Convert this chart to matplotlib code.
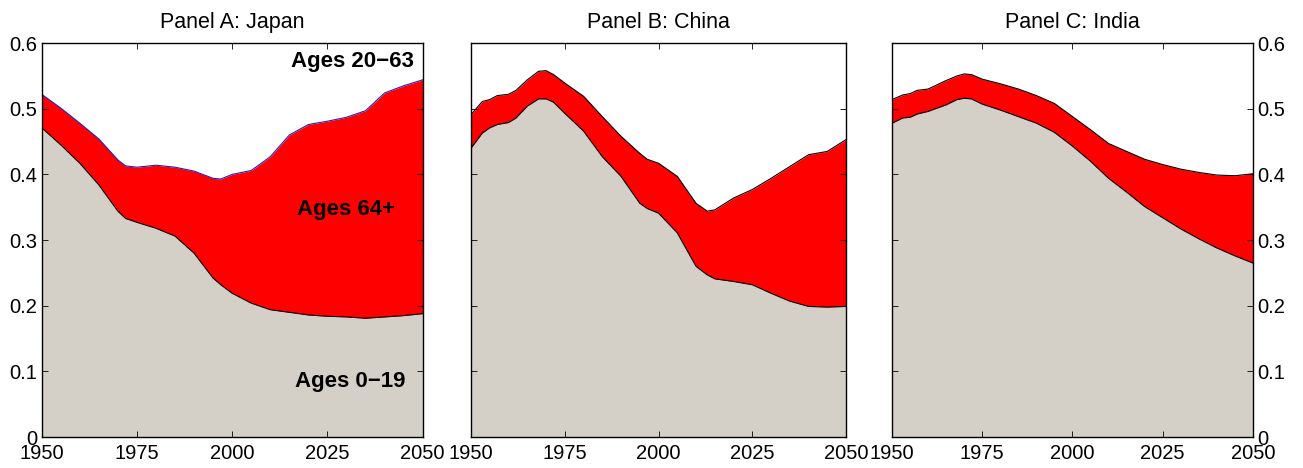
import numpy as np
import matplotlib
matplotlib.use("Agg")
import matplotlib.pyplot as plt

plt.rcParams['font.family'] = ['Liberation Sans', 'DejaVu Sans']

# Japan
jp_years = [1950, 1955, 1960, 1965, 1970, 1972, 1975, 1980, 1985, 1990, 1995, 1997,
            2000, 2005, 2010, 2015, 2020, 2025, 2030, 2035, 2040, 2045, 2050]
jp_young = [0.471, 0.445, 0.417, 0.384, 0.344, 0.333, 0.327, 0.318, 0.306, 0.280, 0.242, 0.232,
            0.219, 0.204, 0.194, 0.190, 0.186, 0.184, 0.183, 0.181, 0.183, 0.185, 0.188]
jp_total = [0.522, 0.501, 0.478, 0.454, 0.422, 0.413, 0.411, 0.414, 0.411, 0.405, 0.394, 0.393,
            0.400, 0.406, 0.427, 0.460, 0.476, 0.481, 0.487, 0.497, 0.524, 0.535, 0.544]

# China
cn_years = [1950, 1953, 1955, 1957, 1960, 1962, 1965, 1968, 1970, 1972, 1975, 1980, 1985,
            1990, 1995, 1997, 2000, 2005, 2010, 2013, 2015, 2020, 2025, 2030, 2035, 2040,
            2045, 2050]
cn_young = [0.440, 0.463, 0.471, 0.476, 0.479, 0.486, 0.504, 0.515, 0.515, 0.510, 0.493, 0.466,
            0.427, 0.397, 0.356, 0.348, 0.341, 0.311, 0.260, 0.247, 0.241, 0.237, 0.232, 0.219,
            0.207, 0.199, 0.198, 0.199]
cn_total = [0.491, 0.511, 0.514, 0.520, 0.522, 0.528, 0.544, 0.557, 0.558, 0.552, 0.539, 0.519,
            0.488, 0.458, 0.432, 0.423, 0.417, 0.397, 0.356, 0.344, 0.346, 0.364, 0.377, 0.394,
            0.412, 0.430, 0.435, 0.453]

# India
in_years = [1950, 1953, 1955, 1957, 1960, 1965, 1968, 1970, 1972, 1975, 1980, 1985, 1990,
            1995, 2000, 2005, 2010, 2015, 2020, 2025, 2030, 2035, 2040, 2045, 2050]
in_young = [0.478, 0.486, 0.487, 0.492, 0.496, 0.506, 0.514, 0.516, 0.515, 0.507, 0.498, 0.488,
            0.478, 0.464, 0.443, 0.420, 0.394, 0.373, 0.351, 0.334, 0.317, 0.302, 0.288, 0.276,
            0.265]
in_total = [0.514, 0.521, 0.523, 0.528, 0.530, 0.543, 0.550, 0.553, 0.552, 0.545, 0.538, 0.530,
            0.520, 0.508, 0.488, 0.468, 0.447, 0.435, 0.423, 0.415, 0.408, 0.403, 0.399, 0.398,
            0.401]

titles = ["Panel A: Japan", "Panel B: China", "Panel C: India"]
x_ticks = [1950, 1975, 2000, 2025, 2050]
y_ticks = [0, 0.1, 0.2, 0.3, 0.4, 0.5, 0.6]
y_labels = ["0", "0.1", "0.2", "0.3", "0.4", "0.5", "0.6"]

grey = "#d4d0c8"
red = "#ff0000"

fig = plt.figure(figsize=(13.03, 4.68), dpi=100)
boxes = [[0.032, 0.066, 0.2924, 0.842],
         [0.3615, 0.066, 0.2878, 0.842],
         [0.6846, 0.066, 0.2770, 0.842]]
series = [(jp_years, jp_young, jp_total),
          (cn_years, cn_young, cn_total),
          (in_years, in_young, in_total)]

for i, (box, (yrs, young, total)) in enumerate(zip(boxes, series)):
    ax = fig.add_axes(box)
    ax.fill_between(yrs, 0, young, color=grey, lw=0)
    ax.fill_between(yrs, young, total, color=red, lw=0)
    ax.plot(yrs, young, color="black", lw=0.8)
    ax.plot(yrs, total, color="#2020c0" if i == 0 else "black", lw=0.8)
    ax.set_xlim(1950, 2050)
    ax.set_ylim(0, 0.6)
    ax.set_xticks(x_ticks)
    ax.set_yticks(y_ticks)
    ax.tick_params(direction="in", top=True, right=True, length=4, width=0.6,
                   labelsize=14.5, pad=3)
    ax.tick_params(axis="x", pad=5)
    if i == 0:
        ax.set_yticklabels(y_labels)
    elif i == 1:
        ax.set_yticklabels([])
    else:
        ax.set_yticklabels(y_labels)
        ax.yaxis.tick_right()
        ax.tick_params(axis="y", left=True, direction="in")
    ax.set_title(titles[i], fontsize=15.5, pad=11)
    for s in ax.spines.values():
        s.set_linewidth(1.0)

    if i == 0:
        ax.text(2031.5, 0.572, "Ages 20\u221263", ha="center", va="center",
                fontsize=16, fontweight="bold")
        ax.text(2030, 0.346, "Ages 64+", ha="center", va="center",
                fontsize=16, fontweight="bold")
        ax.text(2031, 0.085, "Ages 0\u221219", ha="center", va="center",
                fontsize=16, fontweight="bold")

fig.savefig("out.png", dpi=100)
